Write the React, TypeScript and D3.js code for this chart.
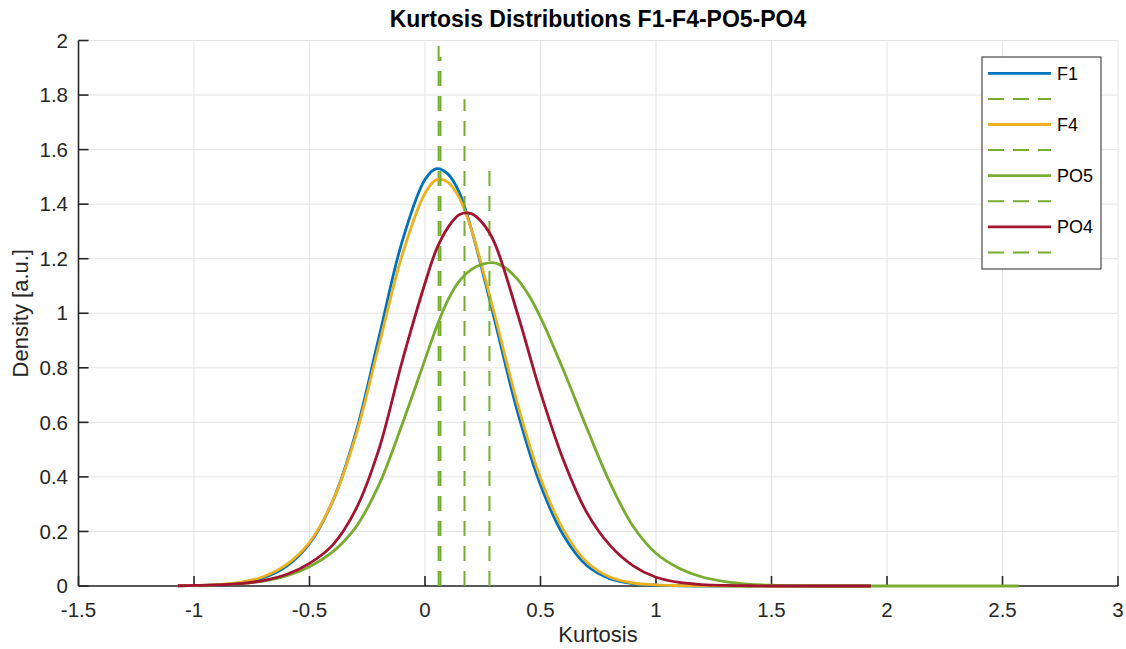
import React from "react";
import * as d3 from "d3";

const W = 1126;
const H = 649;

const xTicks = [-1.5, -1, -0.5, 0, 0.5, 1, 1.5, 2, 2.5, 3];
const yTicks = [0, 0.2, 0.4, 0.6, 0.8, 1, 1.2, 1.4, 1.6, 1.8, 2];

const seriesNames = ["F1", "F4", "PO5", "PO4"];
const seriesColors = ["#0072BD", "#EDB120", "#77AC30", "#A2142F"];

// kurtosis sample positions for F1, F4 and PO4
const gridA = [-1.07, -1.0, -0.9, -0.8, -0.7, -0.6, -0.5, -0.4, -0.3, -0.2, -0.1, 0, 0.05, 0.1, 0.15, 0.2, 0.25, 0.3, 0.4, 0.5, 0.6, 0.7, 0.8, 0.9, 1.0, 1.1, 1.2, 1.3, 1.4, 1.5, 1.6, 1.7, 1.8, 1.93];
const f1Density = [0.001, 0.002, 0.004, 0.011, 0.03, 0.072, 0.155, 0.31, 0.56, 0.91, 1.26, 1.49, 1.53, 1.51, 1.44, 1.31, 1.15, 0.98, 0.64, 0.37, 0.185, 0.075, 0.027, 0.009, 0.003, 0.001, 0, 0, 0, 0, 0, 0, 0, 0];
const f4Density = [0.001, 0.002, 0.005, 0.013, 0.034, 0.078, 0.16, 0.31, 0.55, 0.88, 1.21, 1.44, 1.49, 1.48, 1.42, 1.31, 1.16, 1.0, 0.67, 0.395, 0.205, 0.088, 0.033, 0.011, 0.004, 0.0015, 0.0005, 0, 0, 0, 0, 0, 0, 0];
const po4Density = [0.001, 0.002, 0.004, 0.009, 0.02, 0.042, 0.083, 0.15, 0.28, 0.5, 0.82, 1.11, 1.235, 1.315, 1.362, 1.365, 1.33, 1.26, 1.0, 0.71, 0.46, 0.27, 0.15, 0.075, 0.032, 0.013, 0.005, 0.002, 0.001, 0, 0, 0, 0, 0];

// kurtosis sample positions for PO5
const gridB = [-0.98, -0.9, -0.8, -0.7, -0.6, -0.5, -0.4, -0.3, -0.2, -0.1, 0, 0.05, 0.1, 0.15, 0.2, 0.25, 0.3, 0.35, 0.4, 0.45, 0.5, 0.6, 0.7, 0.8, 0.9, 1.0, 1.1, 1.2, 1.3, 1.4, 1.5, 1.6, 1.7, 1.9, 2.1, 2.3, 2.57];
const po5Density = [0.001, 0.004, 0.009, 0.018, 0.037, 0.071, 0.125, 0.215, 0.37, 0.59, 0.83, 0.95, 1.05, 1.12, 1.16, 1.18, 1.185, 1.165, 1.125, 1.065, 0.985, 0.79, 0.58, 0.38, 0.22, 0.12, 0.065, 0.033, 0.016, 0.007, 0.003, 0.001, 0, 0, 0, 0, 0];

// mean markers (dashed lines): position and height
const meanX = [0.059, 0.067, 0.279, 0.171];
const meanTop = [1.98, 1.94, 1.525, 1.785];

const FONT = "'Liberation Sans', Arial, Helvetica, sans-serif";
const AX = "#262626";

export default function App() {
  const x = d3.scaleLinear().domain([-1.5, 3]).range([78.5, 1118]);
  const y = d3.scaleLinear().domain([0, 2]).range([586, 40.5]);

  const line = d3
    .line<[number, number]>()
    .x((d) => x(d[0]))
    .y((d) => Math.min(y(0), y(d[1])))
    .curve(d3.curveCatmullRom.alpha(0.5));

  const curves: [number, number][][] = [
    gridA.map((g, i) => [g, f1Density[i]]),
    gridA.map((g, i) => [g, f4Density[i]]),
    gridB.map((g, i) => [g, po5Density[i]]),
    gridA.map((g, i) => [g, po4Density[i]]),
  ];

  const legendX = 982;
  const legendY = 57;
  const legendW = 119;
  const legendH = 212;
  const rowH = 25.6;

  return (
    <svg
      width={W}
      height={H}
      style={{ position: "absolute", left: 0, top: 0, background: "#fff" }}
      fontFamily={FONT}
    >
      <rect x={0} y={0} width={W} height={H} fill="#fff" />
      {/* grid */}
      {xTicks.map((t) => (
        <line key={"gx" + t} x1={x(t)} x2={x(t)} y1={y(0)} y2={y(2)} stroke="#e3e3e3" strokeWidth={1} />
      ))}
      {yTicks.map((t) => (
        <line key={"gy" + t} x1={x(-1.5)} x2={x(3)} y1={y(t)} y2={y(t)} stroke="#e3e3e3" strokeWidth={1} />
      ))}
      {/* axes */}
      <line x1={x(-1.5)} x2={x(3)} y1={y(0)} y2={y(0)} stroke={AX} strokeWidth={1.6} />
      <line x1={x(-1.5)} x2={x(-1.5)} y1={y(0)} y2={y(2)} stroke={AX} strokeWidth={1.6} />
      {xTicks.map((t) => (
        <g key={"tx" + t}>
          <line x1={x(t)} x2={x(t)} y1={y(0)} y2={y(0) - 10} stroke={AX} strokeWidth={1.6} />
          <text x={x(t)} y={617} textAnchor="middle" fontSize={20.5} fill={AX}>
            {t}
          </text>
        </g>
      ))}
      {yTicks.map((t) => (
        <g key={"ty" + t}>
          <line x1={x(-1.5)} x2={x(-1.5) + 10} y1={y(t)} y2={y(t)} stroke={AX} strokeWidth={1.6} />
          <text x={68} y={y(t)} dy="0.35em" textAnchor="end" fontSize={20.5} fill={AX}>
            {t}
          </text>
        </g>
      ))}
      {/* data */}
      {curves.map((c, i) => (
        <g key={"s" + i}>
          <path d={line(c) || ""} fill="none" stroke={seriesColors[i]} strokeWidth={2.8} strokeLinejoin="round" />
          <line
            x1={x(meanX[i])}
            x2={x(meanX[i])}
            y1={y(0)}
            y2={y(meanTop[i])}
            stroke="#77AC30"
            strokeWidth={2}
            strokeDasharray="15,10"
          />
        </g>
      ))}
      {/* labels */}
      <text x={598} y={642} textAnchor="middle" fontSize={22} fill={AX}>
        Kurtosis
      </text>
      <text
        transform={`translate(28,${(y(0) + y(2)) / 2}) rotate(-90)`}
        textAnchor="middle"
        fontSize={22}
        fill={AX}
      >
        Density [a.u.]
      </text>
      <text x={598} y={27} textAnchor="middle" fontSize={23} fontWeight="bold" fill="#000">
        Kurtosis Distributions F1-F4-PO5-PO4
      </text>
      {/* legend */}
      <rect x={legendX} y={legendY} width={legendW} height={legendH} fill="#fff" stroke={AX} strokeWidth={1} />
      {seriesNames.map((n, i) => {
        const y1 = legendY + 16.3 + rowH * (2 * i);
        const y2 = y1 + rowH;
        return (
          <g key={"lg" + n}>
            <line x1={988} x2={1051} y1={y1} y2={y1} stroke={seriesColors[i]} strokeWidth={2.8} />
            <text x={1057} y={y1} dy="0.35em" fontSize={18} fill="#000">
              {n}
            </text>
            <line x1={988} x2={1051} y1={y2} y2={y2} stroke="#77AC30" strokeWidth={2} strokeDasharray="16,9" />
          </g>
        );
      })}
    </svg>
  );
}
